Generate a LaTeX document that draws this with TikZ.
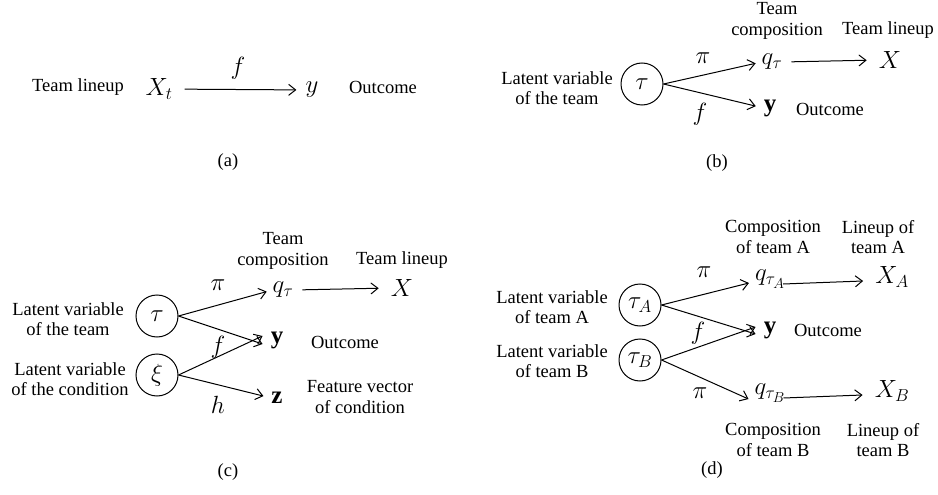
\documentclass[tikz,border=0pt]{standalone}
\usepackage{fontspec}
\setmainfont{Liberation Serif}
\usetikzlibrary{arrows.meta}
\DeclareMathSizes{25}{25}{18}{14}
\begin{document}
\begin{tikzpicture}[x=1pt,y=-1pt,
  txt/.style={font=\fontsize{18.5}{20.5}\selectfont, align=center, inner sep=0pt},
  mth/.style={font=\fontsize{25}{28}\selectfont, inner sep=0pt},
  circ/.style={draw, circle, line width=1pt, minimum size=42pt, inner sep=0pt, font=\fontsize{25}{28}\selectfont},
  arr/.style={line width=1pt, -{Straight Barb[length=7pt,width=11pt,line width=1pt]}},
]
\useasboundingbox (0,0) rectangle (938,495);
% (a)
\node[txt] (alab) at (78,87) {Team lineup};
\node[mth] (aX) at (159,89) {$X_t$};
\node[mth] (ay) at (312,90) {$y$};
\node[txt] (aout) at (383,87) {Outcome};
\node[mth] (af) at (238,68) {$f$};
\draw[arr, shorten <=12pt, shorten >=9pt] (aX) -- (ay);
\node[txt] (acap) at (228,162) {(a)};
% (b)
\node[circ] (btau) at (642,84) {$\tau$};
\node[mth] (bq) at (772,62) {$q_\tau$};
\node[mth] (bX) at (890,60) {$X$};
\node[mth] (by) at (770,108) {$\mathbf{y}$};
\node[mth] (bpi) at (703,58) {$\pi$};
\node[mth] (bf) at (700,114) {$f$};
\node[txt] (bteam) at (777,21) {Team\\composition};
\node[txt] (blin) at (888,30) {Team lineup};
\node[txt] (blat) at (557,88) {Latent variable\\of the team};
\node[txt] (bout) at (830,109) {Outcome};
\draw[arr, shorten >=6pt] (btau.east) -- (bq.west);
\draw[arr, shorten >=8pt] (btau.east) -- (by.west);
\draw[arr, shorten <=9pt, shorten >=12pt] (bq.east) -- (bX.west);
\node[txt] (bcap) at (717,163) {(b)};
% (c)
\node[circ] (ctau) at (157,316) {$\tau$};
\node[circ] (cxi) at (157,375) {$\xi$};
\node[mth] (cq) at (283,290) {$q_\tau$};
\node[mth] (cX) at (402,288) {$X$};
\node[mth] (cy) at (277,340) {$\mathbf{y}$};
\node[mth] (cz) at (277,398) {$\mathbf{z}$};
\node[mth] (cpi) at (218,285) {$\pi$};
\node[mth] (cf) at (218,347) {$f$};
\node[mth] (ch) at (218,405) {$h$};
\node[txt] (cteam) at (283,251) {Team\\composition};
\node[txt] (clin) at (402,260) {Team lineup};
\node[txt] (cout) at (345,342) {Outcome};
\node[txt] (cfeat) at (360,397) {Feature vector\\of condition};
\node[txt] (clat1) at (68,319) {Latent variable\\of the team};
\node[txt] (clat2) at (70,379) {Latent variable\\of the condition};
\draw[arr, shorten >=6pt] (ctau.east) -- (cq.west);
\draw[arr] (ctau.east) -- ([xshift=-8pt,yshift=-4pt]cy.west);
\draw[arr] (cxi.east) -- ([xshift=-8pt,yshift=4pt]cy.west);
\draw[arr, shorten >=8pt] (cxi.east) -- (cz.west);
\draw[arr, shorten <=9pt, shorten >=12pt] (cq.east) -- (cX.west);
\node[txt] (ccap) at (228,472) {(c)};
% (d)
\node[circ] (dta) at (640,305) {$\tau_A$};
\node[circ] (dtb) at (640,360) {$\tau_B$};
\node[mth] (dqa) at (770,279) {$q_{\tau_A}$};
\node[mth] (dxa) at (892,277) {$X_A$};
\node[mth] (dy) at (770,330) {$\mathbf{y}$};
\node[mth] (dqb) at (770,393) {$q_{\tau_B}$};
\node[mth] (dxb) at (892,391) {$X_B$};
\node[mth] (dpi1) at (704,272) {$\pi$};
\node[mth] (df) at (698,333) {$f$};
\node[mth] (dpi2) at (700,393) {$\pi$};
\node[txt] (dca) at (773,237) {Composition\\of team A};
\node[txt] (dla) at (878,237) {Lineup of\\team A};
\node[txt] (dcb) at (773,440) {Composition\\of team B};
\node[txt] (dlb) at (883,440) {Lineup of\\team B};
\node[txt] (dout) at (828,330) {Outcome};
\node[txt] (dlata) at (552,307) {Latent variable\\of team A};
\node[txt] (dlatb) at (552,361) {Latent variable\\of team B};
\draw[arr] (dta.east) -- ([xshift=-6pt,yshift=-4pt]dqa.west);
\draw[arr] (dta.east) -- ([xshift=-8pt,yshift=-4pt]dy.west);
\draw[arr] (dtb.east) -- ([xshift=-8pt,yshift=3pt]dy.west);
\draw[arr] (dtb.east) -- ([xshift=-6pt,yshift=-6pt]dqb.west);
\draw[arr] ([xshift=-2pt,yshift=-5pt]dqa.east) -- ([xshift=-12pt,yshift=-4pt]dxa.west);
\draw[arr] ([xshift=-2pt,yshift=-5pt]dqb.east) -- ([xshift=-12pt,yshift=-4pt]dxb.west);
\node[txt] (dcap) at (712,470) {(d)};
\end{tikzpicture}
\end{document}
